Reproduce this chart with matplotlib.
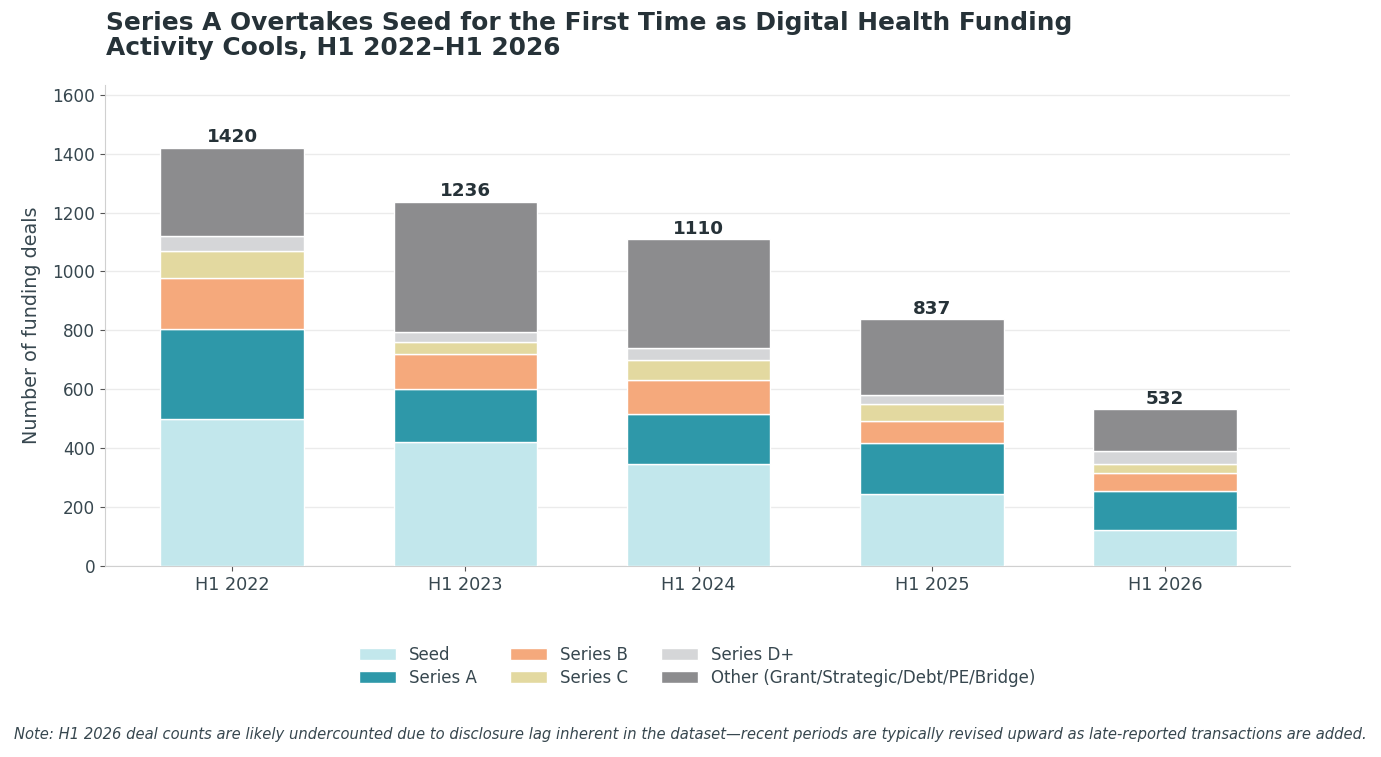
import matplotlib
matplotlib.use("Agg")
import matplotlib.pyplot as plt
import numpy as np

plt.rcParams["font.family"] = ["DejaVu Sans"]

# data
periods = ["H1 2022", "H1 2023", "H1 2024", "H1 2025", "H1 2026"]
seed = [500, 420, 345, 245, 121]
series_a = [305, 182, 172, 172, 133]
series_b = [172, 118, 116, 75, 62]
series_c = [92, 40, 66, 57, 31]
series_d = [50, 35, 40, 31, 42]
other = [301, 441, 371, 257, 143]

labels = ["Seed", "Series A", "Series B", "Series C", "Series D+",
          "Other (Grant/Strategic/Debt/PE/Bridge)"]
colors = ["#c2e7ec", "#2e98a9", "#f5a97c", "#e3d9a0", "#d5d6d8", "#8c8c8e"]
dark = "#263238"
grey_txt = "#37474f"

stacks = [seed, series_a, series_b, series_c, series_d, other]

fig = plt.figure(figsize=(13.81, 7.57), dpi=100)
ax = fig.add_axes([0.076, 0.2523, 0.858, 0.6354])

x = np.arange(len(periods))
bottom = np.zeros(len(periods))
handles = []
for vals, lab, col in zip(stacks, labels, colors):
    h = ax.bar(x, vals, 0.615, bottom=bottom, color=col, label=lab,
               edgecolor="white", linewidth=1, zorder=3)
    handles.append(h)
    bottom += np.array(vals)

for xi, tot in zip(x, bottom):
    ax.text(xi, tot + 5, f"{int(tot)}", ha="center", va="bottom",
            fontsize=13.2, fontweight="bold", color=dark)

ax.set_xlim(-0.545, 4.535)
ax.set_ylim(0, max(bottom) * 1.15)
ax.set_yticks(range(0, 1601, 200))
ax.set_xticks(x)
ax.set_xticklabels(periods)
ax.tick_params(axis="x", labelsize=12.7, colors="#555555", labelcolor=grey_txt)
ax.tick_params(axis="y", labelsize=12.2, colors="#555555", labelcolor=grey_txt)
ax.set_ylabel("Number of funding deals", fontsize=13.8, color=grey_txt, labelpad=8)
ax.grid(axis="y", color="#ebebeb", linewidth=1, zorder=0)
for s in ["top", "right"]:
    ax.spines[s].set_visible(False)
for s in ["left", "bottom"]:
    ax.spines[s].set_color("#d0d0d0")

fig.text(0.077, 0.921, "Series A Overtakes Seed for the First Time as Digital Health Funding\nActivity Cools, H1 2022\u2013H1 2026",
         fontsize=17.9, fontweight="bold", color=dark, ha="left", va="bottom",
         linespacing=1.04)

fig.legend(handles, labels, loc="center", bbox_to_anchor=(0.505, 0.12), ncol=3,
           frameon=False, fontsize=12, handlelength=2.2, handleheight=0.7,
           columnspacing=2.0, labelspacing=0.3, labelcolor=grey_txt)

fig.text(0.01, 0.02, "Note: H1 2026 deal counts are likely undercounted due to disclosure lag inherent in the dataset\u2014recent periods are typically revised upward as late-reported transactions are added.",
         fontsize=10.6, style="italic", color=grey_txt, ha="left", va="bottom")

fig.savefig("out.png", dpi=100)
